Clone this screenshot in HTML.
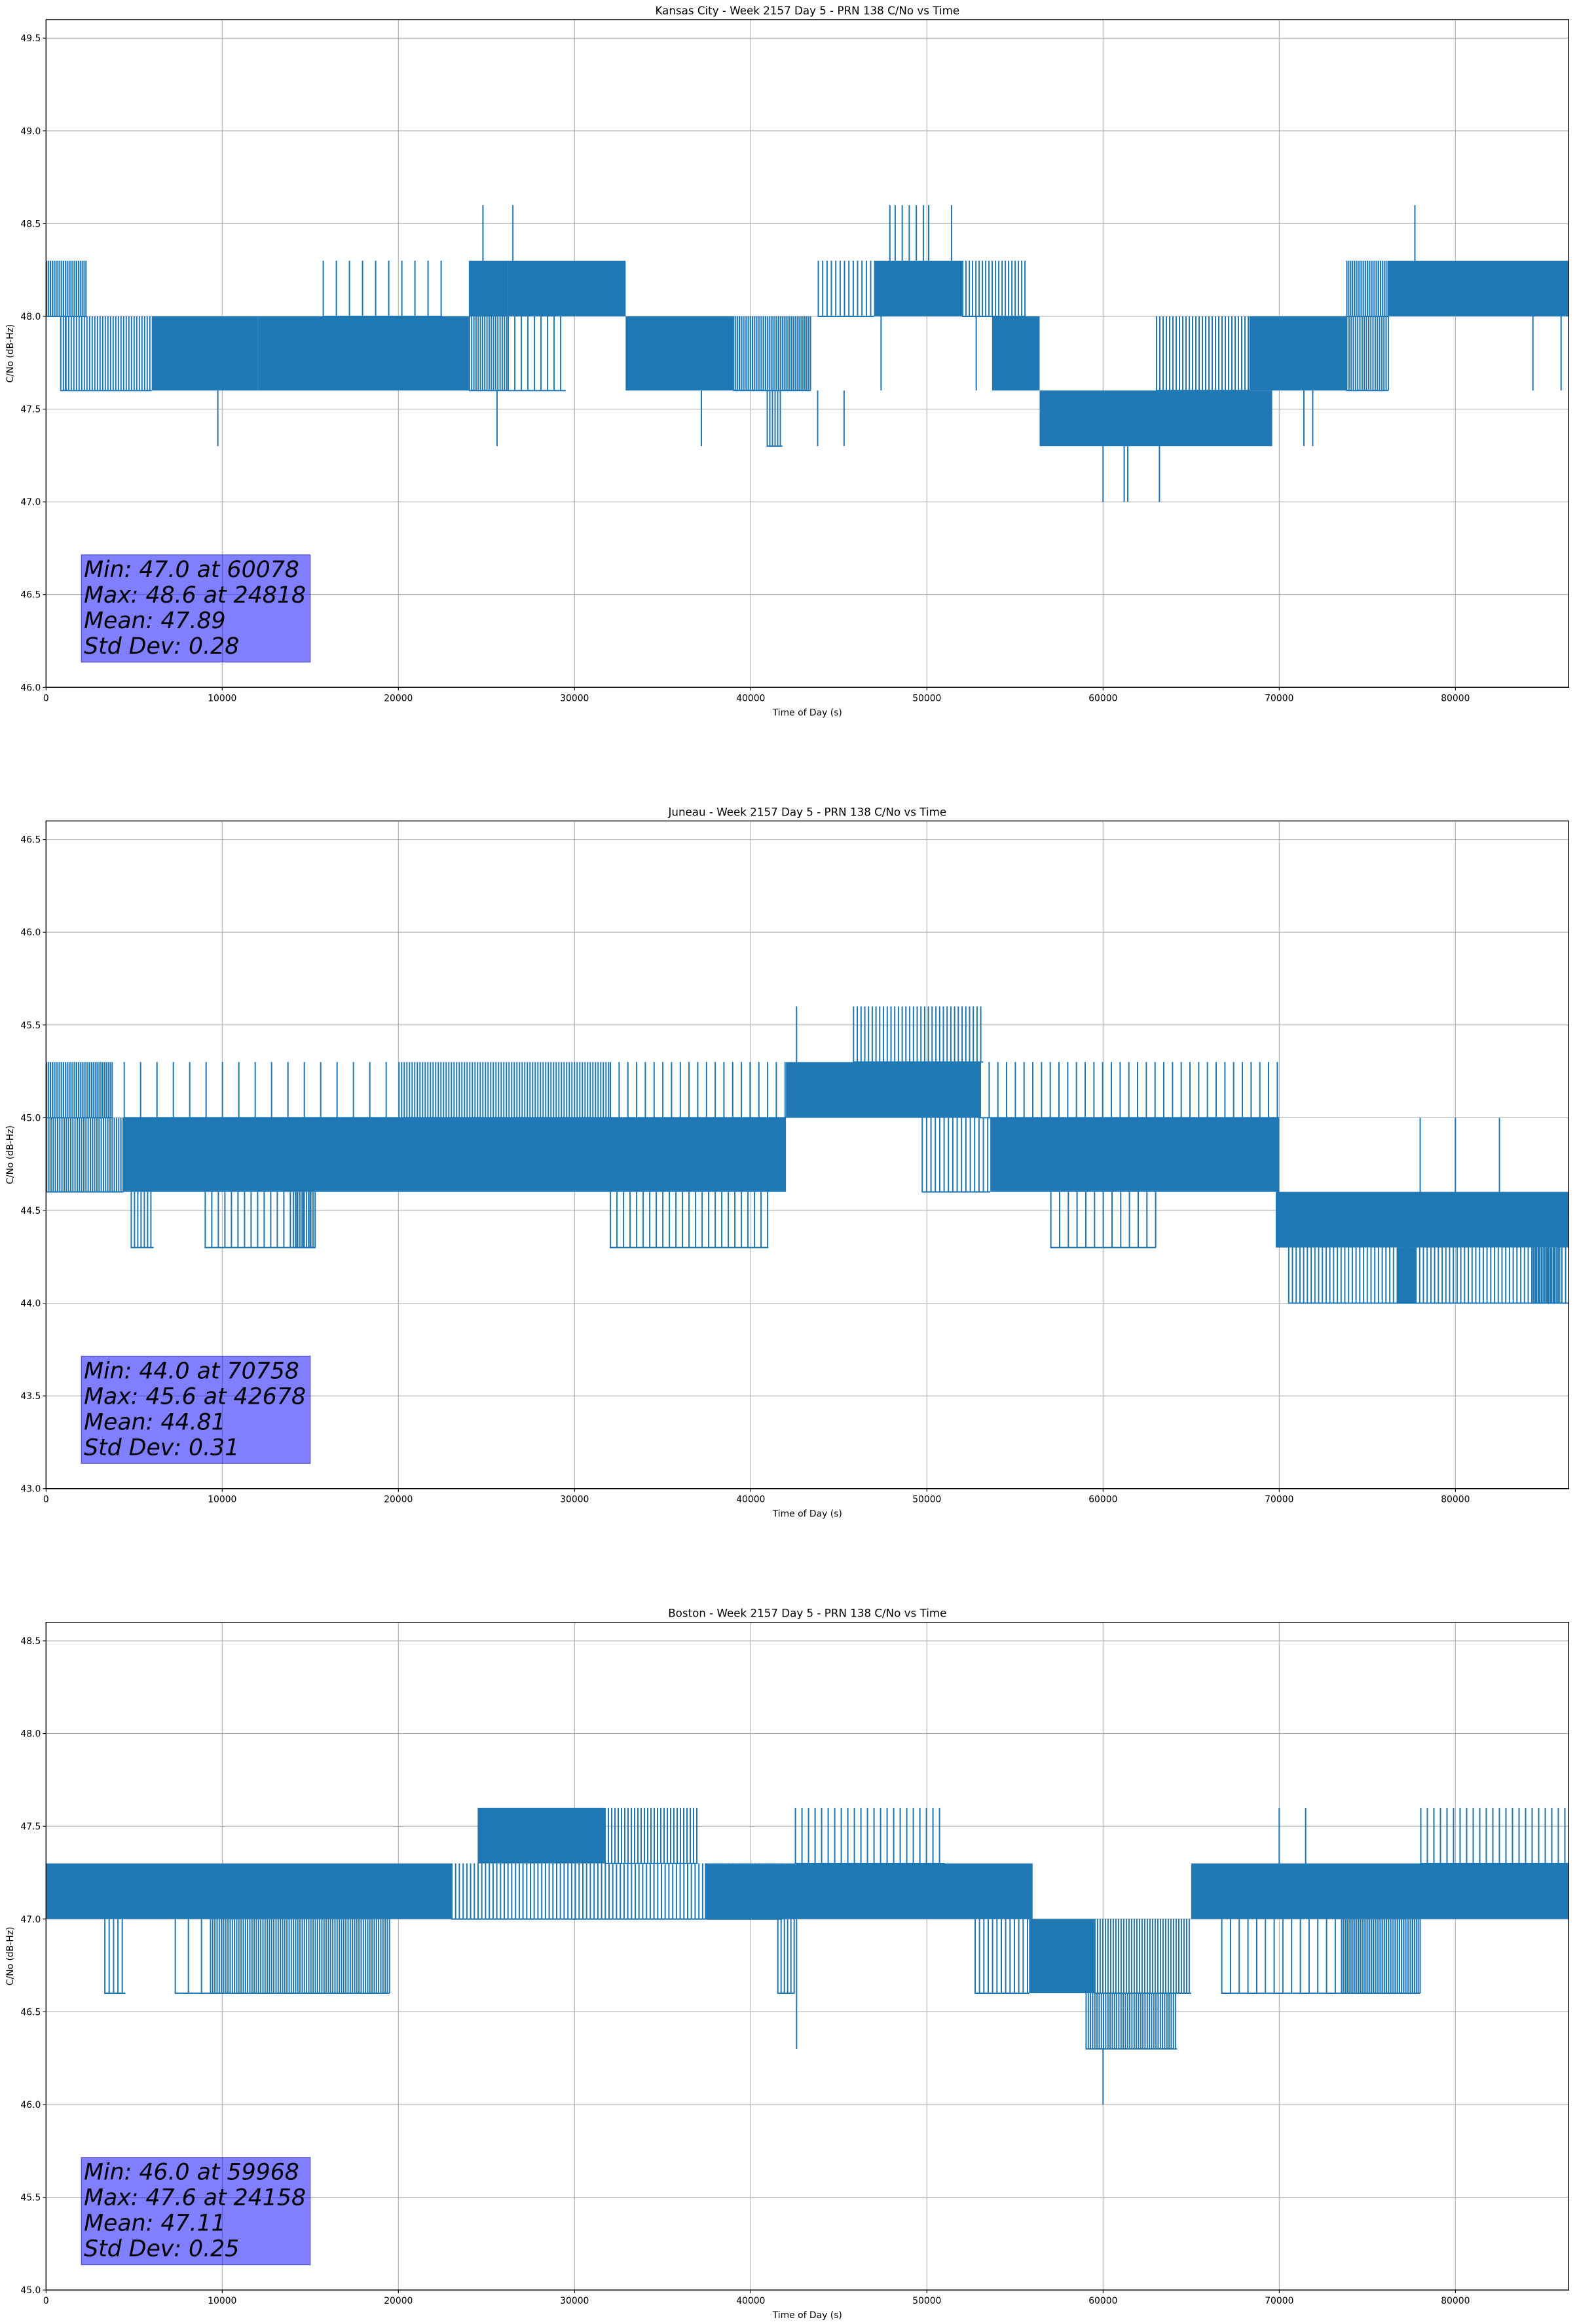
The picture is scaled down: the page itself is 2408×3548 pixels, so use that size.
<!DOCTYPE html>
<html><head><meta charset="utf-8"><style>
html,body{margin:0;padding:0;background:#fff;}
svg{display:block;font-family:"DejaVu Sans","Liberation Sans",sans-serif;}
</style></head><body>
<svg id="fig" width="2408" height="3548" viewBox="0 0 2408 3548" xmlns="http://www.w3.org/2000/svg"></svg>
<script>
const xTicks = [0,10000,20000,30000,40000,50000,60000,70000,80000];
const titles = ["Kansas City - Week 2157 Day 5 - PRN 138 C/No vs Time","Juneau - Week 2157 Day 5 - PRN 138 C/No vs Time","Boston - Week 2157 Day 5 - PRN 138 C/No vs Time"];
const yMins = [46.0,43.0,45.0];
const yMaxs = [49.6,46.6,48.6];
const statsText = [
 ["Min: 47.0 at 60078","Max: 48.6 at 24818","Mean: 47.89","Std Dev: 0.28"],
 ["Min: 44.0 at 70758","Max: 45.6 at 42678","Mean: 44.81","Std Dev: 0.31"],
 ["Min: 46.0 at 59968","Max: 47.6 at 24158","Mean: 47.11","Std Dev: 0.25"]];
// band data: [start s, end s, low dB-Hz, high dB-Hz, density]
const bands1 = [[0,2300,48.0,48.3,0.7],[800,6000,47.6,48.0,0.5],[6000,12000,47.6,48.0,1],[12000,24000,47.6,48.0,0.85],[15700,22500,48.0,48.3,0.1],[24000,26200,48.0,48.3,1],[24000,26200,47.6,48.0,0.6],[26200,32900,48.0,48.3,0.9],[26200,29500,47.6,48.0,0.2],[32900,39000,47.6,48.0,1],[39000,43400,47.6,48.0,0.7],[40900,41800,47.3,47.6,0.5],[43800,47000,48.0,48.3,0.3],[47000,52000,48.0,48.3,1],[52000,55600,48.0,48.3,0.4],[53700,56400,47.6,48.0,1],[56400,69600,47.3,47.6,1],[63000,68300,47.6,48.0,0.4],[68300,73800,47.6,48.0,0.9],[73800,76200,48.0,48.3,0.7],[73800,76200,47.6,48.0,0.6],[76200,86400,48.0,48.3,1]];
const spikes1 = [[24800,48.3,48.6],[26500,48.3,48.6],[47900,48.3,48.6],[48200,48.3,48.6],[48600,48.3,48.6],[49000,48.3,48.6],[49400,48.3,48.6],[49800,48.3,48.6],[50100,48.3,48.6],[51400,48.3,48.6],[77700,48.3,48.6],[9750,47.6,47.3],[25600,47.6,47.3],[37200,47.6,47.3],[43800,47.6,47.3],[45300,47.6,47.3],[71400,47.6,47.3],[71900,47.6,47.3],[60000,47.3,47.0],[61200,47.3,47.0],[61400,47.3,47.0],[63200,47.3,47.0],[1100,48.0,47.6],[47400,48.0,47.6],[52800,48.0,47.6],[84400,48.0,47.6],[86000,48.0,47.6]];
const bands2 = [[0,3800,45.0,45.3,0.7],[0,4400,44.6,45.0,0.6],[4400,42000,44.6,45.0,0.9],[4400,20000,45.0,45.3,0.08],[20000,32000,45.0,45.3,0.5],[32000,42000,45.0,45.3,0.15],[42000,53000,45.0,45.3,1],[45800,53200,45.3,45.6,0.35],[49700,53600,44.6,45.0,0.3],[53600,70000,44.6,45.0,0.9],[53000,70000,45.0,45.3,0.15],[4800,6100,44.3,44.6,0.4],[9000,15300,44.3,44.6,0.2],[14000,15300,44.3,44.6,0.6],[32000,41000,44.3,44.6,0.2],[57000,63000,44.3,44.6,0.15],[69800,86400,44.3,44.6,0.9],[70500,86400,44.0,44.3,0.35],[76700,77800,44.0,44.3,0.9],[84300,86000,44.0,44.3,0.8]];
const spikes2 = [[42600,45.3,45.6],[78000,44.6,45.0],[80000,44.6,45.0],[82500,44.6,45.0]];
const bands3 = [[0,23000,47.0,47.3,0.95],[23000,41800,47.0,47.3,0.35],[37400,56000,47.0,47.3,0.9],[65000,86400,47.0,47.3,0.95],[24500,31700,47.3,47.6,0.95],[31700,37000,47.3,47.6,0.4],[42500,51000,47.3,47.6,0.2],[78000,86400,47.3,47.6,0.2],[3300,4500,46.6,47.0,0.3],[7300,9300,46.6,47.0,0.1],[9300,19500,46.6,47.0,0.6],[41500,42500,46.6,47.0,0.4],[52700,55800,46.6,47.0,0.3],[55800,59500,46.6,47.0,1],[59500,65000,46.6,47.0,0.5],[66700,73500,46.6,47.0,0.15],[73500,78000,46.6,47.0,0.7],[59000,64200,46.3,46.6,0.6]];
const spikes3 = [[42600,47.0,46.3],[60000,46.3,46.0],[70000,47.3,47.6],[71500,47.3,47.6]];
const allBands=[bands1,bands2,bands3], allSpikes=[spikes1,spikes2,spikes3];

const NS="http://www.w3.org/2000/svg", svg=document.getElementById('fig');
const L=70.3, R=2395.3, XMAX=86430, H=1019.4, tops=[29.9,1253.3,2476.7];
function mk(tag,attrs,parent){const e=document.createElementNS(NS,tag);for(const k in attrs)e.setAttribute(k,attrs[k]);(parent||svg).appendChild(e);return e;}
const X=t=>L+t*(R-L)/XMAX;
for(let p=0;p<3;p++){
  const top=tops[p], bot=top+H, ymin=yMins[p], ymax=yMaxs[p];
  const Y=v=>top+(ymax-v)*H/(ymax-ymin);
  const g=mk('g',{});
  
  
  // grid
  xTicks.forEach(t=>{
    const l=mk('line',{x1:X(t),x2:X(t),y1:top,y2:bot,stroke:'#b0b0b0','stroke-width':1.1},g);
    
    
    mk('line',{x1:X(t),x2:X(t),y1:bot,y2:bot+4.9,stroke:'#000','stroke-width':1.1},g);
    const tx=mk('text',{x:X(t),y:bot+21,'font-size':13.9,'text-anchor':'middle',fill:'#000'},g);
    tx.textContent=t;
    
    
  });
  for(let k=0;k<=7;k++){
    const v=ymin+k*0.5, y=Y(v);
    const l=mk('line',{x1:L,x2:R,y1:y,y2:y,stroke:'#b0b0b0','stroke-width':1.1},g);
    
    
    mk('line',{x1:L-4.9,x2:L,y1:y,y2:y,stroke:'#000','stroke-width':1.1},g);
    const tx=mk('text',{x:L-8,y:y+5,'font-size':13.9,'text-anchor':'end',fill:'#000'},g);
    tx.textContent=v.toFixed(1);
    
    
  }
  // data
  const dg=mk('g',{},g);
  
  
  allBands[p].forEach(b=>{
    const x0=X(b[0]), x1=X(b[1]), y0=Y(b[3]), y1=Y(b[2]);
    if(b[4]>=0.85){
      const r=mk('rect',{x:x0,y:y0,width:x1-x0,height:y1-y0,fill:'#1f77b4'},dg);
      
      
    } else {
      const step=2/b[4];
      let d='';
      for(let x=x0+1;x<x1;x+=step) d+='M'+x.toFixed(1)+' '+y0.toFixed(1)+'V'+y1.toFixed(1);
      const pth=mk('path',{d:d,stroke:'#1f77b4','stroke-width':2,fill:'none'},dg);
      
      
      mk('line',{x1:x0,x2:x1,y1:Y(b[2]),y2:Y(b[2]),stroke:'#1f77b4','stroke-width':2},dg);
    }
  });
  allSpikes[p].forEach(s=>{
    const l=mk('line',{x1:X(s[0]),x2:X(s[0]),y1:Y(s[1]),y2:Y(s[2]),stroke:'#1f77b4','stroke-width':2},dg);
    
    
  });
  // frame
  const fr=mk('rect',{x:L,y:top,width:R-L,height:H,fill:'none',stroke:'#000','stroke-width':1.4},g);
  
  
  // stats box
  const bx=mk('rect',{x:X(2000),y:top+817,width:X(15000)-X(2000),height:164,fill:'rgba(0,0,255,0.5)',stroke:'rgba(0,0,100,0.5)','stroke-width':1.2},g);
  
  
  statsText[p].forEach((s,i)=>{
    const tx=mk('text',{x:X(2000)+4,y:top+851+i*39,'font-size':34.7,'font-style':'italic',fill:'#000'},g);
    tx.textContent=s;
    
    
  });
  const tt=mk('text',{x:(L+R)/2,y:top-8,'font-size':16.7,'text-anchor':'middle',fill:'#000'},g);
  tt.textContent=titles[p];
  
  
  const xl=mk('text',{x:(L+R)/2,y:bot+43,'font-size':13.9,'text-anchor':'middle',fill:'#000'},g);
  xl.textContent='Time of Day (s)';
  
  
  const cy=top+H/2;
  const yl=mk('text',{x:20,y:cy,'font-size':13.9,'text-anchor':'middle',fill:'#000',transform:'rotate(-90 20 '+cy+')'},g);
  yl.textContent='C/No (dB-Hz)';
  
  
}
</script>
</body></html>
